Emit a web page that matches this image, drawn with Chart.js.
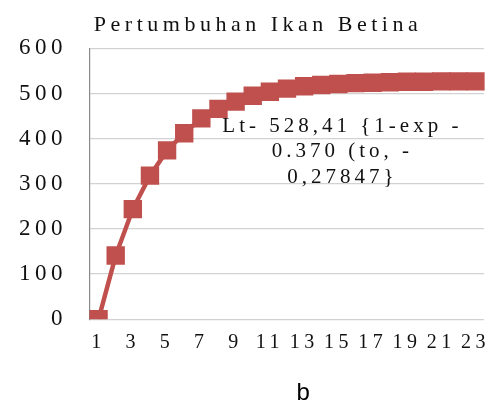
<!DOCTYPE html>
<html>
<head>
<meta charset="utf-8">
<script src="https://cdn.jsdelivr.net/npm/chart.js@4.4.1/dist/chart.umd.min.js"></script>
<style>
  html, body { margin: 0; padding: 0; background: #fff; }
  #wrap { width: 497px; height: 405px; position: relative; }
</style>
</head>
<body>
<div id="wrap"><canvas id="c"></canvas></div>
<script>
// ---- data ----
const categories = ['1','2','3','4','5','6','7','8','9','10','11','12','13','14','15','16','17','18','19','20','21','22','23'];
const lengthValues = [0, 141, 244, 318, 374, 412, 445, 466, 482, 495, 504, 511, 516, 519, 521, 523, 524, 525, 526, 526, 527, 527, 527];
const yTicks = [0, 100, 200, 300, 400, 500, 600];
const titleText = 'Pertumbuhan Ikan Betina';
const captionText = 'b';
const annotationLines = ['Lt- 528,41 {1-exp -', '0.370 (to, -', '0,27847}'];

const SERIF = '"Liberation Serif", "Times New Roman", serif';
const RED = 'rgb(192,80,77)';

const spacingPlugin = {
  id: 'spacing',
  beforeLayout(chart) { chart.ctx.letterSpacing = '4.5px'; },
  afterLayout(chart) {
    // shift the centred title / caption horizontally like the reference
    if (chart.titleBlock) chart.titleBlock.left += 25;
    const cap = chart.boxes.find(b => b !== chart.titleBlock && b.options && b.options.text === captionText);
    if (cap) cap.left += 120;
  },
  beforeDraw(chart) { chart.ctx.letterSpacing = '4.5px'; }
};

const annotationPlugin = {
  id: 'annot',
  afterDatasetsDraw(chart) {
    const ctx = chart.ctx;
    const x = chart.scales.x.getPixelForValue(14);
    const y0 = chart.scales.y.getPixelForValue(427);
    ctx.save();
    ctx.letterSpacing = '4px';
    ctx.font = '21px ' + SERIF;
    ctx.fillStyle = '#111';
    ctx.textAlign = 'center';
    ctx.textBaseline = 'middle';
    annotationLines.forEach((t, i) => ctx.fillText(t, x + 4, y0 + i * 25.5));
    ctx.restore();
  }
};

new Chart(document.getElementById('c'), {
  type: 'line',
  data: {
    labels: categories,
    datasets: [{
      data: lengthValues,
      borderColor: RED,
      backgroundColor: RED,
      borderWidth: 4.5,
      pointStyle: 'rect',
      pointRadius: 13,
      pointHoverRadius: 13,
      pointBorderWidth: 0,
      tension: 0
    }]
  },
  options: {
    responsive: true,
    maintainAspectRatio: false,
    animation: false,
    events: [],
    layout: { padding: { left: 0, right: 6, top: 8, bottom: 0 } },
    plugins: {
      legend: { display: false },
      tooltip: { enabled: false },
      title: {
        display: true,
        text: titleText,
        color: '#111',
        font: { family: SERIF, size: 22, weight: 'normal' },
        padding: { top: 4, bottom: 10 }
      },
      subtitle: {
        display: true,
        position: 'bottom',
        text: captionText,
        color: '#000',
        font: { family: '"Liberation Sans", Arial, sans-serif', size: 24, weight: 'normal', lineHeight: 1.0 },
        padding: { top: 13.8, bottom: 0 }
      }
    },
    scales: {
      x: {
        offset: true,
        afterFit(scale) { scale.paddingLeft = 0; scale.paddingRight = 0; },
        grid: { display: false, drawTicks: false },
        border: { display: false },
        ticks: {
          autoSkip: false,
          maxRotation: 0,
          padding: 12,
          color: '#111',
          font: { family: SERIF, size: 20 },
          callback: function (v, i) { return i % 2 === 0 ? categories[i] : ''; }
        }
      },
      y: {
        min: 0,
        max: 600,
        afterBuildTicks(scale) { scale.ticks = yTicks.map(v => ({ value: v })); },
        afterFit(scale) { scale.width = 90; },
        grid: { color: '#d2d2d2', lineWidth: 1.2, drawTicks: false },
        border: { display: true, color: '#8a8a8a', width: 1.2 },
        ticks: {
          padding: 23,
          color: '#111',
          font: { family: SERIF, size: 23 }
        }
      }
    }
  },
  plugins: [spacingPlugin, annotationPlugin]
});
</script>
</body>
</html>
